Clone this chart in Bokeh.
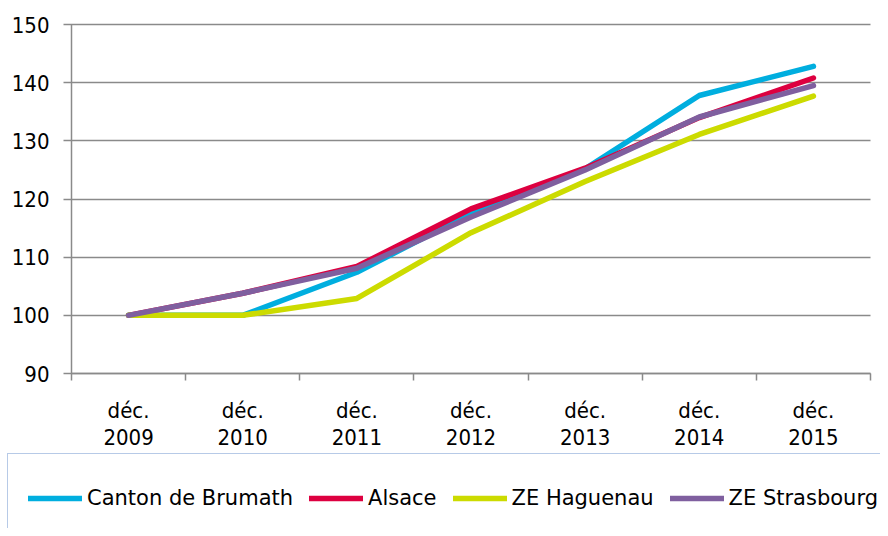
from bokeh.plotting import figure
from bokeh.models import FixedTicker, Range1d, Legend, LegendItem, ColumnDataSource
from bokeh.embed import file_html
from bokeh.resources import INLINE

categories = ["déc.\n2009", "déc.\n2010", "déc.\n2011", "déc.\n2012", "déc.\n2013", "déc.\n2014", "déc.\n2015"]
brumath = [100, 100, 107.4, 117.5, 125.2, 137.8, 142.8]
alsace = [100, 103.8, 108.4, 118.3, 125.3, 134.0, 140.8]
haguenau = [100, 100, 102.9, 114.2, 123.0, 131.1, 137.7]
strasbourg = [100, 103.8, 108.1, 116.9, 125.0, 134.1, 139.5]
series_names = ["Canton de Brumath", "Alsace", "ZE Haguenau", "ZE Strasbourg"]
colors = ["#00AEDF", "#DD0040", "#CCDB00", "#7F5F9F"]
y_ticks = [90, 100, 110, 120, 130, 140, 150]

FONT = "DejaVu Sans Condensed"
FS = "22px"
GRID = "#8A8A8A"
W, H = 880, 528
# pixel layout of the plotting area inside the canvas
AX_L, AX_R, AX_T, AX_B = 71, 870, 24, 373
n = len(categories)
xs = [i + 0.5 for i in range(n)]
ymin, ymax = min(y_ticks), max(y_ticks)

# the frame fills the whole canvas; ranges are widened so that the
# data area lands on the pixel box above, and the legend can sit below it
px_x = (AX_R - AX_L) / n
px_y = (AX_B - AX_T) / (ymax - ymin)
x_range = Range1d(-AX_L / px_x, n + (W - AX_R) / px_x)
y_range = Range1d(ymin - (H - AX_B) / px_y, ymax + AX_T / px_y)

p = figure(width=W, height=H, output_backend="svg", toolbar_location=None,
           x_range=x_range, y_range=y_range,
           min_border_left=0, min_border_right=0, min_border_top=0, min_border_bottom=0)
p.outline_line_color = None
p.xgrid.grid_line_color = None
p.ygrid.grid_line_color = None

items = []
for name, vals, col in zip(series_names, [brumath, alsace, haguenau, strasbourg], colors):
    src = ColumnDataSource(dict(x=xs, y=vals))
    r = p.line("x", "y", source=src, line_color=col, line_width=5.5, line_cap="round", line_join="round")
    items.append(LegendItem(label=name, renderers=[r]))

# y axis: its inward major ticks span the plot width and act as gridlines
p.yaxis.level = "underlay"
p.yaxis.fixed_location = 0
p.yaxis.bounds = (ymin, ymax)
p.yaxis.ticker = FixedTicker(ticks=y_ticks)
p.yaxis.axis_line_color = GRID
p.yaxis.axis_line_width = 1.5
p.yaxis.major_tick_line_color = GRID
p.yaxis.major_tick_line_width = 1.5
p.yaxis.major_tick_in = AX_R - AX_L
p.yaxis.major_tick_out = 8
p.yaxis.minor_tick_line_color = None
p.yaxis.major_label_standoff = 14
p.yaxis.major_label_text_font = FONT
p.yaxis.major_label_text_font_size = FS
p.yaxis.major_label_text_color = "#000000"

# x axis
p.xaxis.level = "underlay"
p.xaxis.fixed_location = ymin
p.xaxis.bounds = (0, n)
p.xaxis.ticker = FixedTicker(ticks=xs, minor_ticks=list(range(n + 1)))
p.xaxis.major_label_overrides = {x: c for x, c in zip(xs, categories)}
p.xaxis.axis_line_color = GRID
p.xaxis.axis_line_width = 1.5
p.xaxis.major_tick_line_color = None
p.xaxis.minor_tick_line_color = GRID
p.xaxis.minor_tick_line_width = 1.5
p.xaxis.minor_tick_in = 0
p.xaxis.minor_tick_out = 7
p.xaxis.major_tick_in = 0
p.xaxis.major_tick_out = 0
p.xaxis.major_label_standoff = 17
p.xaxis.major_label_text_font = FONT
p.xaxis.major_label_text_font_size = FS
p.xaxis.major_label_text_color = "#000000"
p.xaxis.major_label_text_line_height = 1.1

legend = Legend(items=items, location=(7, -15), orientation="horizontal",
                padding=20, spacing=16, margin=0, glyph_width=54, glyph_height=48,
                label_standoff=5, label_text_font="DejaVu Sans",
                label_text_font_size="21px", label_text_color="#000000",
                border_line_color="#7096CF", border_line_width=1.5,
                background_fill_alpha=1.0)
p.add_layout(legend, "center")

open("out.html", "w").write(file_html(p, INLINE))
